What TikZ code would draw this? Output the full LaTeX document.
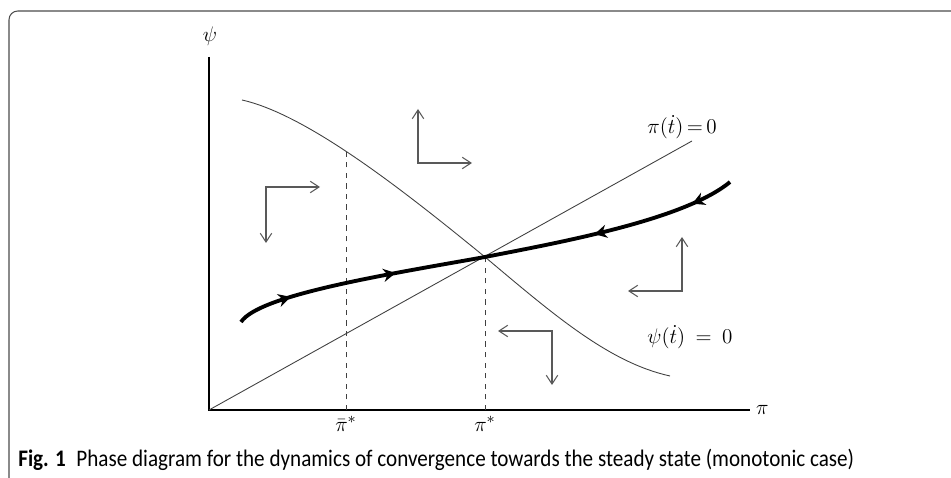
\documentclass[tikz,border=0pt]{standalone}
\usepackage{amsmath}
\usepackage{fontspec}
\setsansfont{Carlito}
\usepackage{tikz}
\usetikzlibrary{arrows.meta,decorations.markings}

\tikzset{
    flux/.style={
        {Straight Barb[length=5pt,width=6.5pt]}-{Straight Barb[length=5pt,width=6.5pt]},
        line width=0.6pt,
        black!65
    },
    corba/.style={
        line width=0.5pt,
        black!75
    }
}

\begin{document}
\begin{tikzpicture}[>=Stealth, scale=1,
    every node/.style={font=\fontsize{12.5}{15}\selectfont}]

\useasboundingbox (-4.18,-1.36) rectangle (14.84,8.2);

% Marc
\draw[
    black!70,
    line width=0.6pt,
    rounded corners=5pt
] (-4.0,-1.8) -- (-4.0,7.98) -- (15.2,7.98);

% Eixos
\coordinate (O) at (0,0);
\draw[
    line width=1.1pt
] (0,7.06) -- (O) -- (10.82,0);
\node (psi) at (0.02,7.48) {$\psi$};
\node[right] (pi) at (10.82,0) {$\pi$};

% Punt d'equilibri
\coordinate (E) at (5.52,3.06);

% Corba psi punt = 0
\draw[corba] (0.66,6.2)
  .. controls (2.0,5.9) and (4.0,4.3) ..
  (E)
  .. controls (6.9,1.9) and (8.0,0.95) ..
  (9.22,0.68);

% Recta pi punt = 0
\draw[corba] (O) -- (9.66,5.38);

\node (pidot) at (9.46,5.66) {$\pi(\dot{t})\mkern-2mu=\mkern-2mu0$};
\node (psidot) at (9.62,1.46) {$\psi(\dot{t}) \:=\: 0$};

% Linies discontinues
\draw[corba, dashed] (2.74,0) -- (2.74,5.16);
\draw[corba, dashed] (5.52,0) -- (E);
\node[below] (pibar) at (2.74,0) {$\bar{\pi}^*$};
\node[below] (pistar) at (5.52,0) {$\pi^*$};

% Trajectoria de sella
\draw[
    line width=2.2pt,
    postaction={decorate},
    decoration={markings,
        mark=at position 0.11 with {\arrow{Stealth[length=7pt,width=7.5pt]}},
        mark=at position 0.32 with {\arrow{Stealth[length=7pt,width=7.5pt]}},
        mark=at position 0.715 with {\arrowreversed{Stealth[length=7pt,width=7.5pt]}},
        mark=at position 0.915 with {\arrowreversed{Stealth[length=7pt,width=7.5pt]}}}
] (0.64,1.76)
  .. controls (1.0,2.3) and (3.5,2.7) ..
  (E)
  .. controls (7.0,3.35) and (9.5,3.8) ..
  (10.42,4.56);

% Fletxes de direccio
\draw[flux] (4.18,6.02) -- (4.18,4.94) -- (5.26,4.94);
\draw[flux] (2.22,4.46) -- (1.14,4.46) -- (1.14,3.34);
\draw[flux] (9.46,3.46) -- (9.46,2.38) -- (8.38,2.38);
\draw[flux] (5.78,1.58) -- (6.86,1.58) -- (6.86,0.5);

% Peu de figura
\node[
    anchor=base west,
    inner sep=0pt,
    font=\sffamily\fontsize{13.5}{16}\selectfont
] (caption) at (-3.82,-1.14)
    {\scalebox{0.89}[1]{\textbf{Fig. 1}\hspace{0.5em}Phase diagram for the dynamics of convergence towards the steady state (monotonic case)}};

\end{tikzpicture}
\end{document}
